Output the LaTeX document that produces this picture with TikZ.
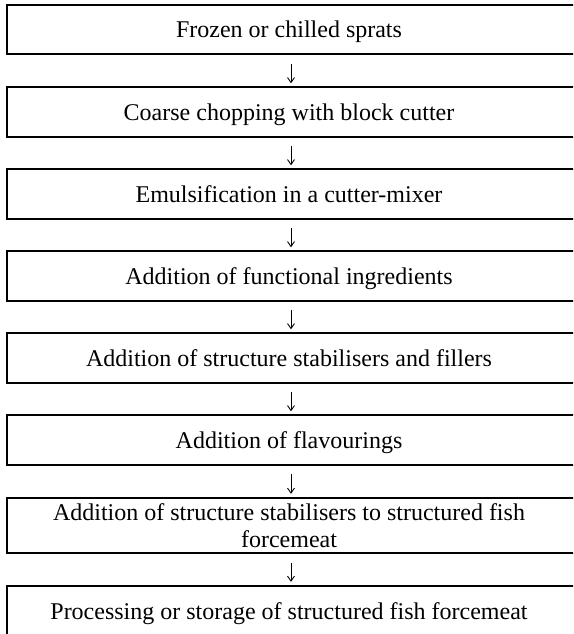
\documentclass[tikz,border=0pt]{standalone}
\usepackage{fontspec}
\setmainfont{Liberation Serif}
\usetikzlibrary{arrows.meta}
\begin{document}
\begin{tikzpicture}[x=1pt,y=1pt,
  stepbox/.style={minimum width=564pt,minimum height=49pt,inner sep=0pt,align=center,
    text height=18pt,text depth=2pt,
    font=\fontsize{24}{27.5}\selectfont},
  twoline/.style={text height=,text depth=},
  boxline/.style={line width=2pt},
  flowarrow/.style={line width=0.9pt,-{Straight Barb[length=5pt,width=7pt]},
    shorten <=9.5pt,shorten >=4pt}]
\clip (0,0) rectangle (573,-634);
\fill[white] (0,0) rectangle (573,-634);
\node[stepbox] (b1) at (289,-29.5) {Frozen or chilled sprats};
\node[stepbox] (b2) at (289,-112) {Coarse chopping with block cutter};
\node[stepbox] (b3) at (289,-194) {Emulsification in a cutter-mixer};
\node[stepbox] (b4) at (289,-276) {Addition of functional ingredients};
\node[stepbox] (b5) at (289,-358) {Addition of structure stabilisers and fillers};
\node[stepbox] (b6) at (289,-440) {Addition of flavourings};
\node[stepbox,twoline,minimum height=55pt] (b7) at (289,-525.5) {Addition of structure stabilisers to structured fish\\forcemeat};
\node[stepbox,minimum height=50pt] (b8) at (289,-611) {Processing or storage of structured fish forcemeat};
\foreach \b in {b1,b2,b3,b4,b5,b6,b7,b8}{
  \draw[boxline] ([xshift=30pt]\b.north east) -- (\b.north west) -- (\b.south west) -- ([xshift=30pt]\b.south east);
}
\foreach \a/\b in {b1/b2,b2/b3,b3/b4,b4/b5,b5/b6,b6/b7,b7/b8}{
  \draw[flowarrow] ([xshift=2pt]\a.south) -- ([xshift=2pt]\b.north);
}
\end{tikzpicture}
\end{document}
